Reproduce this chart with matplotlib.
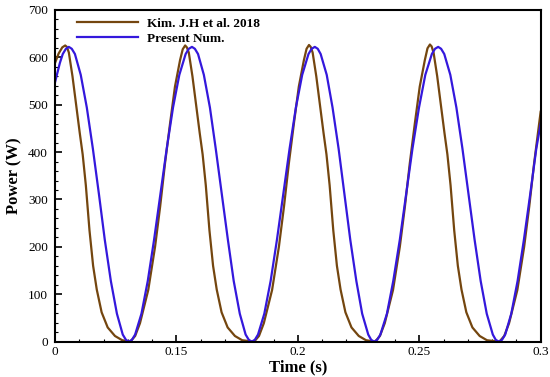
import matplotlib
matplotlib.use("Agg")
import matplotlib.pyplot as plt
from matplotlib.ticker import MultipleLocator, FixedLocator

# ---- data ----
t_present = [0.1000, 0.1020, 0.1032, 0.1045, 0.1057,
             0.1069, 0.1082, 0.1106, 0.1131, 0.1156, 0.1181, 0.1205, 0.1230, 0.1255, 0.1279, 0.1292, 0.1304,
             0.1317, 0.1330, 0.1356, 0.1382, 0.1408, 0.1434, 0.1460, 0.1486, 0.1512, 0.1538, 0.1551, 0.1564,
             0.1576, 0.1589, 0.1613, 0.1638, 0.1662, 0.1687, 0.1712, 0.1736, 0.1761, 0.1785, 0.1798, 0.1810,
             0.1823, 0.1836, 0.1862, 0.1888, 0.1914, 0.1940, 0.1966, 0.1992, 0.2018, 0.2044, 0.2057, 0.2070,
             0.2082, 0.2094, 0.2119, 0.2143, 0.2168, 0.2192, 0.2216, 0.2241, 0.2265, 0.2290, 0.2302, 0.2314,
             0.2327, 0.2340, 0.2367, 0.2393, 0.2420, 0.2446, 0.2472, 0.2499, 0.2525, 0.2552, 0.2565, 0.2578,
             0.2590, 0.2603, 0.2628, 0.2653, 0.2678, 0.2703, 0.2728, 0.2753, 0.2778, 0.2803, 0.2815, 0.2828,
             0.2841, 0.2854, 0.2879, 0.2905, 0.2931, 0.2957, 0.2982, 0.3000]
p_present = [547, 588, 607, 618, 622,
             618, 607, 563, 494, 407, 311, 215, 128, 59, 15, 4, 0,
             4, 15, 59, 128, 215, 311, 407, 494, 563, 607, 618, 622,
             618, 607, 563, 494, 407, 311, 215, 128, 59, 15, 4, 0,
             4, 15, 59, 128, 215, 311, 407, 494, 563, 607, 618, 622,
             618, 607, 563, 494, 407, 311, 215, 128, 59, 15, 4, 0,
             4, 15, 59, 128, 215, 311, 407, 494, 563, 607, 618, 622,
             618, 607, 563, 494, 407, 311, 215, 128, 59, 15, 4, 0,
             4, 15, 59, 128, 215, 311, 407, 460]

t_kim = [0.1000, 0.1015, 0.1030, 0.1042, 0.1049,
         0.1057, 0.1072, 0.1087, 0.1102, 0.1114, 0.1127, 0.1142, 0.1157, 0.1172, 0.1192,
         0.1217, 0.1247, 0.1277,
         0.1310, 0.1330, 0.1350, 0.1384, 0.1412, 0.1433, 0.1453, 0.1474, 0.1494, 0.1515, 0.1526, 0.1536, 0.1543,
         0.1551, 0.1566, 0.1581, 0.1596, 0.1608, 0.1621, 0.1636, 0.1651, 0.1666, 0.1686,
         0.1711, 0.1741, 0.1771,
         0.1820, 0.1840, 0.1860, 0.1894, 0.1922, 0.1943, 0.1963, 0.1984, 0.2004, 0.2025, 0.2036, 0.2046, 0.2053,
         0.2061, 0.2076, 0.2091, 0.2106, 0.2118, 0.2131, 0.2146, 0.2161, 0.2176, 0.2196,
         0.2221, 0.2251, 0.2281,
         0.2318, 0.2338, 0.2358, 0.2392, 0.2420, 0.2441, 0.2461, 0.2482, 0.2502, 0.2523, 0.2534, 0.2544, 0.2551,
         0.2559, 0.2574, 0.2589, 0.2604, 0.2616, 0.2629, 0.2644, 0.2659, 0.2674, 0.2694,
         0.2719, 0.2749, 0.2779,
         0.2830, 0.2850, 0.2870, 0.2904, 0.2932, 0.2953, 0.2973, 0.2994, 0.3000]
p_kim = [588, 608, 621, 625, 622,
         610, 560, 500, 440, 395, 330, 235, 160, 110, 62,
         30, 12, 3,
         0, 12, 39, 109, 200, 285, 376, 461, 538, 594, 617, 625, 621,
         610, 560, 500, 440, 395, 330, 235, 160, 110, 62,
         30, 12, 3,
         0, 12, 39, 109, 200, 285, 376, 461, 538, 594, 618, 626, 622,
         610, 560, 500, 440, 395, 330, 235, 160, 110, 62,
         30, 12, 3,
         0, 12, 39, 109, 200, 285, 376, 461, 538, 594, 619, 627, 623,
         610, 560, 500, 440, 395, 330, 235, 160, 110, 62,
         30, 12, 3,
         0, 12, 39, 109, 200, 285, 376, 461, 485]

x_tick_values = [0.10, 0.15, 0.20, 0.25, 0.30]
x_tick_labels = ["0", "0.15", "0.2", "0.25", "0.3"]
y_tick_values = [0, 100, 200, 300, 400, 500, 600, 700]

label_kim = "Kim. J.H et al. 2018"
label_present = "Present Num."

# ---- figure ----
plt.rcParams['font.family'] = ['Liberation Serif', 'DejaVu Serif']
fig = plt.figure(figsize=(5.5, 3.77), dpi=100)
ax = fig.add_axes([0.1, 0.0937, 0.883, 0.88])

ax.plot(t_kim, p_kim, color='#74460f', lw=1.6, label=label_kim)
ax.plot(t_present, p_present, color='#3418dc', lw=1.6, label=label_present)

ax.set_xlim(0.1, 0.3)
ax.set_ylim(0, 700)
ax.xaxis.set_major_locator(FixedLocator(x_tick_values))
ax.set_xticklabels(x_tick_labels)
ax.xaxis.set_minor_locator(MultipleLocator(0.01))
ax.set_yticks(y_tick_values)
ax.yaxis.set_minor_locator(MultipleLocator(20))

ax.tick_params(which='both', direction='in', top=False, right=False, labelsize=9.5)
ax.tick_params(which='major', length=5, width=1.2)
ax.tick_params(which='minor', length=2.5, width=0.8)
ax.tick_params(axis='x', pad=3)
ax.tick_params(axis='y', pad=5)
for s in ax.spines.values():
    s.set_linewidth(1.5)

ax.set_xlabel("Time (s)", fontsize=12, fontweight='bold', labelpad=1)
ax.set_ylabel("Power (W)", fontsize=12, fontweight='bold', labelpad=4)

leg = ax.legend(loc='upper left', bbox_to_anchor=(0.03, 1.0), frameon=False,
                prop={'weight': 'bold', 'size': 9.5}, handlelength=4.6,
                handletextpad=0.7, labelspacing=0.2, borderaxespad=0.2)

fig.savefig("out.png", dpi=100)
